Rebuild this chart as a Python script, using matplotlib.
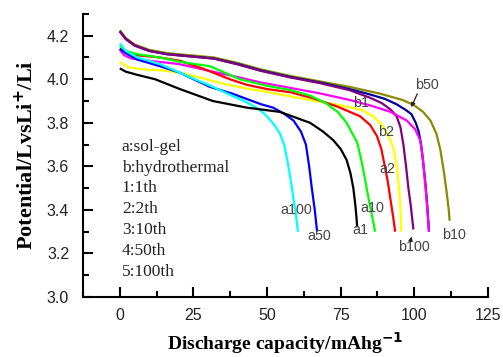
import numpy as np
import matplotlib
matplotlib.use("Agg")
import matplotlib.pyplot as plt
from matplotlib.ticker import MultipleLocator

# discharge curves: capacity (mAh/g), potential (V)
a1_x = [0, 2, 6, 12, 20.4, 31.6, 43, 54.4, 64.6, 69, 72.5, 75, 77, 78.3, 79.3, 80, 80.4, 80.6]
a1_y = [4.05, 4.035, 4.02, 4.0, 3.955, 3.9, 3.87, 3.85, 3.8, 3.76, 3.72, 3.68, 3.63, 3.57, 3.5, 3.42, 3.36, 3.32]

a2_x = [0, 2, 6, 13.6, 20.4, 28, 37.4, 43, 50, 58, 65, 73.8, 81.6, 85, 87.3, 88.8, 90, 91, 92, 92.8, 93.5]
a2_y = [4.14, 4.125, 4.11, 4.1, 4.085, 4.05, 4.0, 3.975, 3.955, 3.94, 3.915, 3.875, 3.83, 3.79, 3.74, 3.68, 3.6, 3.53, 3.44, 3.37, 3.3]

a10_x = [0, 2, 6, 13.6, 20.4, 30.6, 40.8, 50, 58, 64.6, 70, 74, 77, 79, 80.6, 82, 83.3, 84.5, 85.7, 86.7]
a10_y = [4.155, 4.13, 4.115, 4.1, 4.08, 4.06, 4.0, 3.97, 3.95, 3.925, 3.89, 3.85, 3.8, 3.75, 3.71, 3.63, 3.54, 3.45, 3.37, 3.3]

a50_x = [0, 2, 6, 13.6, 20.4, 30.6, 38, 43, 48, 52, 56, 59, 61.5, 63.2, 64.3, 65.2, 66.2, 67]
a50_y = [4.14, 4.12, 4.09, 4.06, 4.03, 3.965, 3.935, 3.91, 3.885, 3.87, 3.84, 3.81, 3.76, 3.7, 3.6, 3.5, 3.4, 3.3]

a100_x = [0, 2, 6, 13.6, 20.4, 31.6, 38, 43, 47, 50, 52.5, 54.4, 55.8, 57, 58, 59, 59.8, 60.5]
a100_y = [4.165, 4.13, 4.1, 4.07, 4.03, 3.965, 3.925, 3.895, 3.865, 3.83, 3.79, 3.75, 3.7, 3.62, 3.54, 3.45, 3.38, 3.3]

b1_x = [0, 1.5, 4, 10, 20, 30, 40, 48, 58, 68, 78, 85, 92, 97.5, 100.3, 102, 102.8, 103.5, 104.2, 105]
b1_y = [4.135, 4.11, 4.095, 4.085, 4.07, 4.04, 4.01, 3.985, 3.96, 3.935, 3.905, 3.88, 3.85, 3.81, 3.77, 3.72, 3.65, 3.55, 3.44, 3.3]

b2_x = [0, 3, 8, 15, 20.4, 28, 35, 44, 48.6, 64.6, 75, 82, 86, 89, 91.3, 93, 94.2, 95, 95.4, 95.6]
b2_y = [4.08, 4.055, 4.045, 4.04, 4.03, 4.005, 3.98, 3.955, 3.945, 3.905, 3.88, 3.86, 3.83, 3.79, 3.74, 3.68, 3.58, 3.47, 3.38, 3.3]

b10_x = [0, 2, 5, 10, 16, 24, 32, 40, 48, 58, 68, 78, 88, 96, 100, 103, 105.5, 107.5, 108.8, 110, 111, 111.7, 112]
b10_y = [4.225, 4.19, 4.16, 4.135, 4.12, 4.11, 4.1, 4.075, 4.045, 4.015, 3.99, 3.965, 3.935, 3.905, 3.88, 3.85, 3.81, 3.75, 3.68, 3.58, 3.48, 3.4, 3.35]

b50_x = [0, 2, 5, 10, 16, 24, 32, 40, 48, 58, 68, 78, 85, 90, 94, 97, 99, 100.5, 101.5, 102.3, 103, 103.8, 104.4, 105]
b50_y = [4.22, 4.185, 4.155, 4.13, 4.115, 4.105, 4.095, 4.07, 4.04, 4.01, 3.985, 3.955, 3.93, 3.91, 3.885, 3.86, 3.84, 3.8, 3.76, 3.7, 3.62, 3.52, 3.42, 3.3]

b100_x = [0, 2, 5, 10, 16, 24, 32, 40, 48, 58, 68, 78, 85, 89, 92, 94, 95.3, 96.3, 97.2, 98, 98.8, 99.7]
b100_y = [4.22, 4.185, 4.155, 4.13, 4.115, 4.105, 4.095, 4.068, 4.038, 4.008, 3.982, 3.95, 3.915, 3.89, 3.86, 3.83, 3.78, 3.7, 3.6, 3.5, 3.42, 3.31]

legend_lines = ["a:sol-gel", "b:hydrothermal", "1:1th", "2:2th", "3:10th", "4:50th", "5:100th"]

curves = [
    (b10_x, b10_y, "#8c8a00"),
    (b50_x, b50_y, "#000099"),
    (b100_x, b100_y, "#800080"),
    (b1_x, b1_y, "#ff00ff"),
    (b2_x, b2_y, "#ffff00"),
    (a2_x, a2_y, "#ff0000"),
    (a10_x, a10_y, "#00ff00"),
    (a50_x, a50_y, "#0000ff"),
    (a100_x, a100_y, "#00ffff"),
    (a1_x, a1_y, "#000000"),
]

# curve labels: text, x, y
labels = [
    ("a100", 54.4, 3.40), ("a50", 63.6, 3.28), ("a1", 79.0, 3.31),
    ("a10", 81.6, 3.41), ("a2", 88.0, 3.59), ("b2", 87.8, 3.76),
    ("b1", 79.3, 3.89), ("b50", 100.3, 3.975), ("b100", 94.6, 3.23),
    ("b10", 109.5, 3.285),
]

sans = "Liberation Sans"
serif = "Liberation Serif"

fig = plt.figure(figsize=(5.03, 3.57), dpi=100)
ax = fig.add_axes([0.165, 0.168, 0.805, 0.793])

for xs, ys, c in curves:
    ax.plot(xs, ys, color=c, lw=1.6, solid_capstyle="butt", solid_joinstyle="round")

for t, x, y in labels:
    ax.text(x, y, t, fontsize=10.3, family=sans, color="#444444", ha="left", va="center")

# little pointer lines
ax.annotate("", xy=(98.6, 3.86), xytext=(101.4, 3.945),
            arrowprops=dict(arrowstyle="-|>", color="#222222", lw=0.9, mutation_scale=6))
ax.annotate("", xy=(99.3, 3.29), xytext=(98.7, 3.255),
            arrowprops=dict(arrowstyle="-|>", color="#222222", lw=0.9, mutation_scale=6))

for i, t in enumerate(legend_lines):
    ax.text(0.7, 3.69 - 0.0957 * i, t, fontsize=12.5, family=serif, color="#222222",
            ha="left", va="center")

ax.set_xlim(-12.5, 125)
ax.set_ylim(3.0, 4.3)
ax.xaxis.set_major_locator(MultipleLocator(25))
ax.xaxis.set_minor_locator(MultipleLocator(12.5))
ax.yaxis.set_major_locator(MultipleLocator(0.2))
ax.yaxis.set_minor_locator(MultipleLocator(0.1))
ax.set_xticks([0, 25, 50, 75, 100, 125])
ax.set_yticks([3.0, 3.2, 3.4, 3.6, 3.8, 4.0, 4.2])
ax.set_yticklabels(["3.0", "3.2", "3.4", "3.6", "3.8", "4.0", "4.2"])

for s in ["top", "right"]:
    ax.spines[s].set_visible(False)
for s in ["left", "bottom"]:
    ax.spines[s].set_linewidth(1.5)

ax.tick_params(which="major", direction="in", length=7, width=1.5, labelsize=11.5,
               labelcolor="#222222")
ax.tick_params(which="minor", direction="in", length=4, width=1.5)
ax.tick_params(axis="y", which="major", pad=10)
ax.tick_params(axis="x", which="major", pad=8)
for lab in ax.get_xticklabels() + ax.get_yticklabels():
    lab.set_family(sans)

ax.set_xlabel("Discharge capacity/mAhg$^{\\mathbf{-1}}$", fontsize=14, family=serif,
              fontweight="bold", labelpad=5)
ax.set_ylabel("Potential/LvsLi$^{\\mathbf{+}}$/Li", fontsize=16, family=serif,
              fontweight="bold", labelpad=6)

fig.savefig("out.png", dpi=100)
